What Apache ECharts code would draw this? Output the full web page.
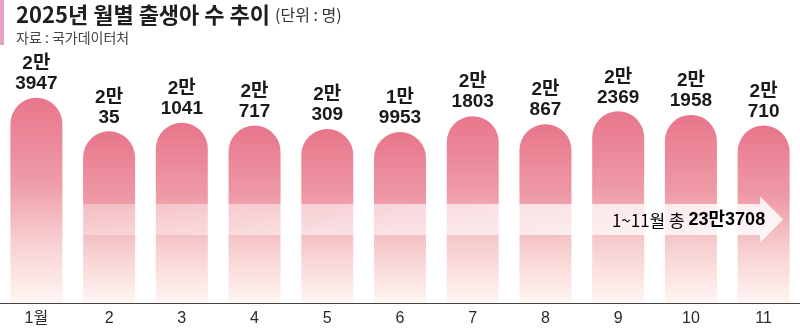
<!DOCTYPE html>
<html><head><meta charset="utf-8">
<script src="https://cdn.jsdelivr.net/npm/echarts@6/dist/echarts.min.js"></script>
<style>html,body{margin:0;padding:0;background:#fff}#c{width:800px;height:331px}</style>
</head><body><div id="c"></div>
<script>
const months = ['1월','2','3','4','5','6','7','8','9','10','11'];
const births = [23947, 20035, 21041, 20717, 20309, 19953, 21803, 20867, 22369, 21958, 20710];
const totalLabelPrefix = '1~11월 총 ';
const totalLabelValue = '23만3708';
const titleMain = '2025년 월별 출생아 수 추이';
const titleUnit = '(단위 : 명)';
const sourceText = '자료 : 국가데이터처';

const KR = '"Noto Sans CJK KR", "Noto Sans", sans-serif';
const NUM = '"Liberation Sans", "Noto Sans CJK KR", sans-serif';

function fmt(v){ return Math.floor(v/10000) + '만\n' + (v % 10000); }

const chart = echarts.init(document.getElementById('c'), null, {renderer:'canvas'});
chart.setOption({
  animation:false,
  grid:{left:0, right:0, top:46, bottom:28},
  title:[{
    left:11, top:-1,
    text:'{a|' + titleMain + '} {b|' + titleUnit + '}',
    textStyle:{fontWeight:'normal', rich:{
      a:{fontFamily:KR, fontSize:22, fontWeight:'bold', color:'#1e1e1e'},
      b:{fontFamily:KR, fontSize:16, fontWeight:'normal', color:'#333'}
    }},
    subtext: sourceText,
    subtextStyle:{fontFamily:KR, fontSize:14, color:'#444'},
    itemGap:5
  }],
  xAxis:{type:'category', data:months,
    axisLine:{lineStyle:{color:'#444', width:1}},
    axisTick:{show:false},
    axisLabel:{fontFamily:NUM, fontSize:16, color:'#2a2a2a', margin:8}},
  yAxis:{type:'value', min:0, max:30000, show:false, splitLine:{show:false}},
  series:[{
    type:'bar', data:births, barWidth:52,
    itemStyle:{
      borderRadius:[26,26,0,0],
      color:new echarts.graphic.LinearGradient(0,0,0,1,[
        {offset:0, color:'#e8768b'},
        {offset:0.4, color:'#ee9aa6'},
        {offset:0.7, color:'#f7cfd0'},
        {offset:1, color:'#fff6f2'}
      ])
    },
    label:{show:true, position:'top', distance:4,
      formatter:p=>fmt(p.value),
      fontFamily:NUM, fontWeight:'bold', fontSize:19, lineHeight:20, color:'#1a1a1a'}
  }]
});

// Decorative translucent arrow band, positioned from the chart's own scales
function drawArrow(){
  const yTop = chart.convertToPixel({yAxisIndex:0}, 11550);
  const yBot = chart.convertToPixel({yAxisIndex:0}, 7950);
  const yMid = (yTop + yBot) / 2;
  const half = (yBot - yTop) / 2;
  const x0 = (chart.convertToPixel({xAxisIndex:0}, months[0]) + chart.convertToPixel({xAxisIndex:0}, months[1])) / 2;
  const xLast = chart.convertToPixel({xAxisIndex:0}, months[10]);
  const tip = xLast + 19.5;
  const headX = tip - 23;
  const headHalf = half + 7.5;
  chart.setOption({graphic:[
    {type:'polygon', silent:true, z:10,
     shape:{points:[[x0,yTop],[headX,yTop],[headX,yMid-headHalf],[tip,yMid],[headX,yMid+headHalf],[headX,yBot],[x0,yBot]]},
     style:{fill:new echarts.graphic.LinearGradient(0,0,1,0,[
        {offset:0, color:'rgba(255,255,255,0.3)'},
        {offset:0.5, color:'rgba(255,255,255,0.6)'},
        {offset:1, color:'rgba(255,255,255,0.85)'}])}},
    {type:'text', silent:true, z:11, x: headX + 5, y: yMid + 1,
     style:{text:'{r|' + totalLabelPrefix + '}{b|' + totalLabelValue + '}',
       align:'right', verticalAlign:'middle',
       rich:{
         r:{fontFamily:KR, fontSize:17, color:'#ad4b7e'},
         b:{fontFamily:NUM, fontSize:18, fontWeight:'bold', color:'#a3406f'}
       }}},
    {type:'rect', silent:true, shape:{x:0, y:0, width:4, height:45}, style:{fill:'#e6a2c2'}}
  ]});
}
drawArrow();
</script></body></html>
